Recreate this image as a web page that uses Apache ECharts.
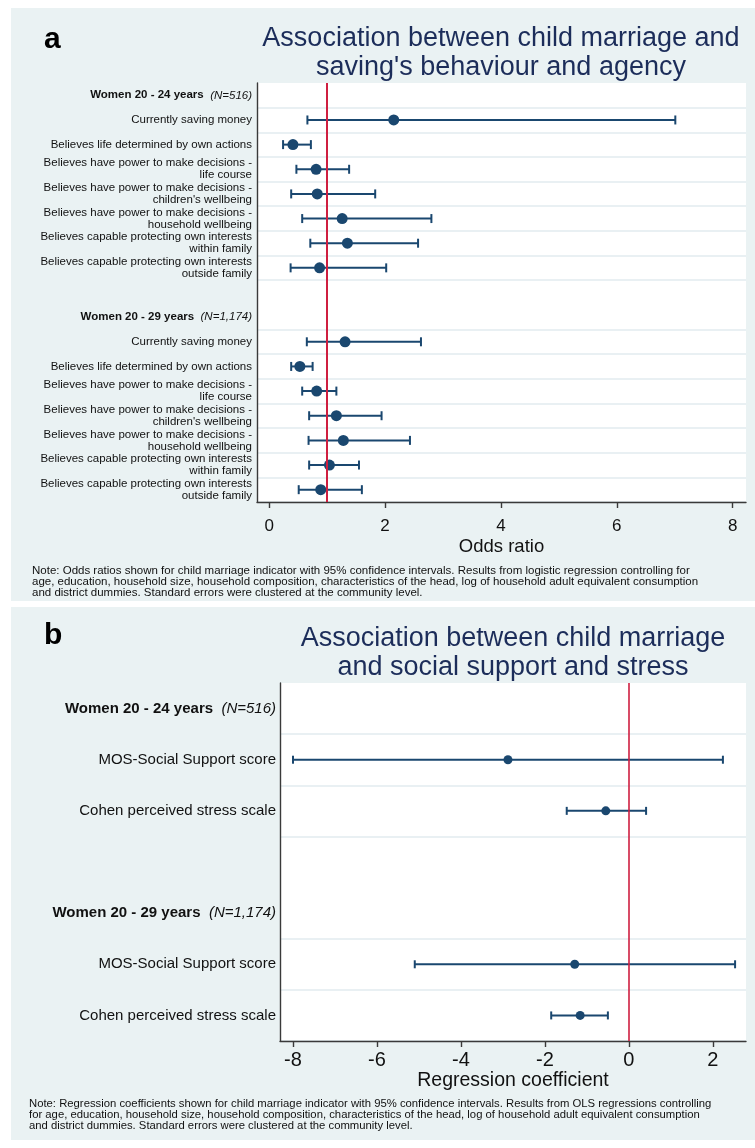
<!DOCTYPE html>
<html><head><meta charset="utf-8">
<script src="https://cdn.jsdelivr.net/npm/echarts@6/dist/echarts.min.js"></script>
<style>html,body{margin:0;padding:0;background:#fff}#c{width:755px;height:1148px}</style>
</head><body><div id="c"></div>
<script>
// ---------- data ----------
const itemsA = [
  'Currently saving money',
  'Believes life determined by own actions',
  'Believes have power to make decisions -\nlife course',
  "Believes have power to make decisions -\nchildren's wellbeing",
  'Believes have power to make decisions -\nhousehold wellbeing',
  'Believes capable protecting own interests\nwithin family',
  'Believes capable protecting own interests\noutside family'
];
const groupLabels = ['Women 20 - 24 years', 'Women 20 - 29 years'];
const groupN = ['(N=516)', '(N=1,174)'];
const orA24 = [2.15, 0.41, 0.81, 0.83, 1.26, 1.35, 0.87];
const loA24 = [0.66, 0.24, 0.47, 0.38, 0.57, 0.71, 0.37];
const hiA24 = [7.01, 0.72, 1.38, 1.83, 2.80, 2.57, 2.02];
const orA29 = [1.31, 0.53, 0.82, 1.16, 1.28, 1.04, 0.89];
const loA29 = [0.65, 0.38, 0.57, 0.69, 0.68, 0.69, 0.51];
const hiA29 = [2.62, 0.75, 1.16, 1.94, 2.43, 1.55, 1.60];
const itemsB = ['MOS-Social Support score', 'Cohen perceived stress scale'];
const coefB24 = [-2.88, -0.55];
const loB24 = [-8.00, -1.48];
const hiB24 = [2.24, 0.41];
const coefB29 = [-1.29, -1.16];
const loB29 = [-5.10, -1.85];
const hiB29 = [2.53, -0.50];
const ticksA = [0, 2, 4, 6, 8];
const ticksB = [-8, -6, -4, -2, 0, 2];
const refA = 1;
const refB = 0;
const titleA = 'Association between child marriage and\nsaving\'s behaviour and agency';
const titleB = 'Association between child marriage\nand social support and stress';
const xNameA = 'Odds ratio';
const xNameB = 'Regression coefficient';
const noteA = 'Note: Odds ratios shown for child marriage indicator with 95% confidence intervals. Results from logistic regression controlling for\nage, education, household size, household composition, characteristics of the head, log of household adult equivalent consumption\nand district dummies. Standard errors were clustered at the community level.';
const noteB = 'Note: Regression coefficients shown for child marriage indicator with 95% confidence intervals. Results from OLS regressions controlling\nfor age, education, household size, household composition, characteristics of the head, log of household adult equivalent consumption\nand district dummies. Standard errors were clustered at the community level.';

// ---------- styles ----------
const FONT = "'Liberation Sans', Arial, sans-serif";
const NAVY = '#1a476f';
const RED = '#cf1f40';
const BG = '#eaf2f3';
const GRID = '#e2ebef';
const AXIS = '#3a3a3a';
const TITLE = '#1c2d5a';

// ---------- build rows ----------
function buildRows(items) {
  const rows = [];
  for (let g = 0; g < 2; g++) {
    rows.push({kind: 'h', g: g});
    items.forEach(t => rows.push({kind: 'i', text: t}));
    if (g === 0) rows.push({kind: 'blank'});
  }
  return rows;
}
const rowsA = buildRows(itemsA);
const rowsB = buildRows(itemsB);
function rowIndex(items, g, k) { return g * (items.length + 2) + 1 + k; }

function errData(items, lo24, hi24, lo29, hi29) {
  const d = [];
  items.forEach((_, k) => d.push([lo24[k], hi24[k], rowIndex(items, 0, k)]));
  items.forEach((_, k) => d.push([lo29[k], hi29[k], rowIndex(items, 1, k)]));
  return d;
}
function ptData(items, v24, v29) {
  const d = [];
  items.forEach((_, k) => d.push([v24[k], rowIndex(items, 0, k)]));
  items.forEach((_, k) => d.push([v29[k], rowIndex(items, 1, k)]));
  return d;
}
function labelFormatter(rows) {
  return function (value) {
    const r = rows[parseInt(String(value).slice(1), 10)];
    if (!r || r.kind === 'blank') return '';
    if (r.kind === 'h') return '{hb|' + groupLabels[r.g] + '}  {hi|' + groupN[r.g] + '}';
    return r.text;
  };
}
function splitFn(rows) {
  // line at top boundary of every row, except the first row of the second group
  return function (index) {
    if (index === 0) return false;
    return rows[index - 1].kind !== 'blank';
  };
}
function errBars(capHalf, width) {
  return function (params, api) {
    const y = api.value(2);
    const p0 = api.coord([api.value(0), y]);
    const p1 = api.coord([api.value(1), y]);
    const st = {stroke: NAVY, lineWidth: width};
    return {type: 'group', children: [
      {type: 'line', shape: {x1: p0[0], y1: p0[1], x2: p1[0], y2: p1[1]}, style: st},
      {type: 'line', shape: {x1: p0[0], y1: p0[1] - capHalf, x2: p0[0], y2: p0[1] + capHalf}, style: st},
      {type: 'line', shape: {x1: p1[0], y1: p1[1] - capHalf, x2: p1[0], y2: p1[1] + capHalf}, style: st}
    ]};
  };
}

const chart = echarts.init(document.getElementById('c'), null, {renderer: 'canvas'});

function yAxisOpt(rows, gridIndex, prefix, fs, lh, margin) {
  return {
    type: 'category', gridIndex: gridIndex, inverse: true,
    data: rows.map((_, i) => prefix + i),
    axisLine: {show: true, onZero: false, lineStyle: {color: AXIS, width: 1.4}},
    axisTick: {show: false},
    axisLabel: {
      interval: 0, margin: margin, fontSize: fs, lineHeight: lh, color: '#111',
      fontFamily: FONT, align: 'right',
      formatter: labelFormatter(rows),
      rich: {
        hb: {fontWeight: 'bold', fontSize: fs, fontFamily: FONT, color: '#111'},
        hi: {fontStyle: 'italic', fontSize: fs, fontFamily: FONT, color: '#111'}
      }
    },
    splitLine: {show: true, interval: splitFn(rows), lineStyle: {color: GRID, width: 1.5}}
  };
}
function xAxisOpt(gridIndex, min, max, ticks, name, labelFs, labelMargin, nameFs, nameGap) {
  return {
    type: 'value', gridIndex: gridIndex, min: min, max: max,
    axisLine: {show: true, onZero: false, lineStyle: {color: AXIS, width: 1.4}},
    axisTick: {show: true, length: 6, customValues: ticks, lineStyle: {color: AXIS, width: 1.4}},
    axisLabel: {customValues: ticks, margin: labelMargin, fontSize: labelFs, color: '#111', fontFamily: FONT},
    splitLine: {show: false},
    name: name, nameLocation: 'middle', nameGap: nameGap,
    nameTextStyle: {fontSize: nameFs, color: '#111', fontFamily: FONT}
  };
}

const option = {
  backgroundColor: '#ffffff',
  animation: false,
  textStyle: {fontFamily: FONT},
  grid: [
    {left: 257, top: 83, width: 489, height: 419, show: true, backgroundColor: '#ffffff', borderWidth: 0, containLabel: false},
    {left: 280, top: 683, width: 466, height: 358, show: true, backgroundColor: '#ffffff', borderWidth: 0, containLabel: false}
  ],
  xAxis: [
    xAxisOpt(0, -0.21, 8.23, ticksA, xNameA, 17, 16, 18.5, 35),
    xAxisOpt(1, -8.31, 2.79, ticksB, xNameB, 20, 9, 19.5, 30)
  ],
  yAxis: [
    yAxisOpt(rowsA, 0, 'a', 11.5, 12, 5),
    yAxisOpt(rowsB, 1, 'b', 15, 16, 4)
  ],
  graphic: [
    {type: 'rect', z: -10, shape: {x: 11, y: 8, width: 744, height: 593}, style: {fill: BG}},
    {type: 'rect', z: -10, shape: {x: 11, y: 607, width: 744, height: 533}, style: {fill: BG}},
    {type: 'text', z: 10, style: {text: 'a', x: 44, y: 55, fontSize: 30, fontWeight: 'bold', fontFamily: FONT, fill: '#000', align: 'left', verticalAlign: 'bottom'}},
    {type: 'text', z: 10, style: {text: 'b', x: 44, y: 651, fontSize: 30, fontWeight: 'bold', fontFamily: FONT, fill: '#000', align: 'left', verticalAlign: 'bottom'}},
    {type: 'text', z: 10, style: {text: titleA, x: 501, y: 53, fontSize: 27, lineHeight: 29, fontFamily: FONT, fill: TITLE, align: 'center', verticalAlign: 'middle'}},
    {type: 'text', z: 10, style: {text: titleB, x: 513, y: 653, fontSize: 27, lineHeight: 29, fontFamily: FONT, fill: TITLE, align: 'center', verticalAlign: 'middle'}},
    {type: 'text', z: 10, style: {text: noteA, x: 32, y: 582, fontSize: 11.5, lineHeight: 11, fontFamily: FONT, fill: '#111', align: 'left', verticalAlign: 'middle'}},
    {type: 'text', z: 10, style: {text: noteB, x: 29, y: 1115, fontSize: 11.3, lineHeight: 11, fontFamily: FONT, fill: '#111', align: 'left', verticalAlign: 'middle'}}
  ],
  series: [
    {type: 'custom', xAxisIndex: 0, yAxisIndex: 0, z: 2, renderItem: errBars(4.5, 2),
     encode: {x: [0, 1], y: 2}, data: errData(itemsA, loA24, hiA24, loA29, hiA29), silent: true},
    {type: 'scatter', xAxisIndex: 0, yAxisIndex: 0, z: 4, symbol: 'circle', symbolSize: 11,
     itemStyle: {color: NAVY, opacity: 1}, data: ptData(itemsA, orA24, orA29), silent: true,
     markLine: {silent: true, symbol: ['none', 'none'], label: {show: false},
       lineStyle: {color: RED, width: 2, type: 'solid'}, data: [{xAxis: refA}]}},
    {type: 'custom', xAxisIndex: 1, yAxisIndex: 1, z: 2, renderItem: errBars(4, 2),
     encode: {x: [0, 1], y: 2}, data: errData(itemsB, loB24, hiB24, loB29, hiB29), silent: true},
    {type: 'scatter', xAxisIndex: 1, yAxisIndex: 1, z: 4, symbol: 'circle', symbolSize: 9,
     itemStyle: {color: NAVY, opacity: 1}, data: ptData(itemsB, coefB24, coefB29), silent: true,
     markLine: {silent: true, symbol: ['none', 'none'], label: {show: false},
       lineStyle: {color: RED, width: 1.6, type: 'solid'}, data: [{xAxis: refB}]}}
  ]
};
chart.setOption(option);
</script></body></html>
